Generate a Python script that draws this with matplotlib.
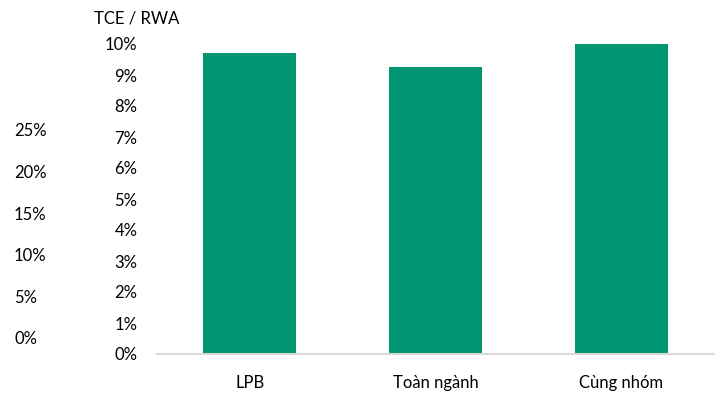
import matplotlib.pyplot as plt

# Data
categories = ["LPB", "Toàn ngành", "Cùng nhóm"]
tce_rwa = [9.7, 9.25, 10.0]
main_ticks = list(range(0, 11))
left_ticks = [0, 5, 10, 15, 20, 25]

plt.rcParams['font.family'] = ['Lato', 'DejaVu Sans']

fig = plt.figure(figsize=(7.24, 3.94), dpi=100)

# Main bar chart
ax = fig.add_axes([157 / 724, 1 - 354 / 394, 557 / 724, 310 / 394])
ax.bar(categories, tce_rwa, width=0.5, color='#009672')
ax.set_xlim(-0.5, 2.5)
ax.set_ylim(0, 10)
ax.set_yticks(main_ticks)
ax.set_yticklabels([f"{t}%" for t in main_ticks])
ax.tick_params(axis='y', length=0, pad=14, labelsize=12)
ax.tick_params(axis='x', length=0, pad=15, labelsize=12)
for s in ['top', 'right', 'left']:
    ax.spines[s].set_visible(False)
ax.spines['bottom'].set_color('#d9d9d9')
ax.spines['bottom'].set_linewidth(1.5)

# Leftover secondary scale on the far left
ax2 = fig.add_axes([14 / 724, 1 - 338 / 394, 0.0001, 208 / 394])
ax2.set_ylim(0, 25)
ax2.set_yticks(left_ticks)
ax2.set_yticklabels([f"{t}%" for t in left_ticks])
ax2.yaxis.tick_right()
ax2.tick_params(axis='y', length=0, pad=0, labelsize=12)
ax2.set_xticks([])
for s in ax2.spines.values():
    s.set_visible(False)
ax2.patch.set_visible(False)

fig.text(137 / 724, 1 - 19 / 394, "TCE / RWA", ha='center', va='center', fontsize=12)

fig.savefig("out.png", dpi=100)
